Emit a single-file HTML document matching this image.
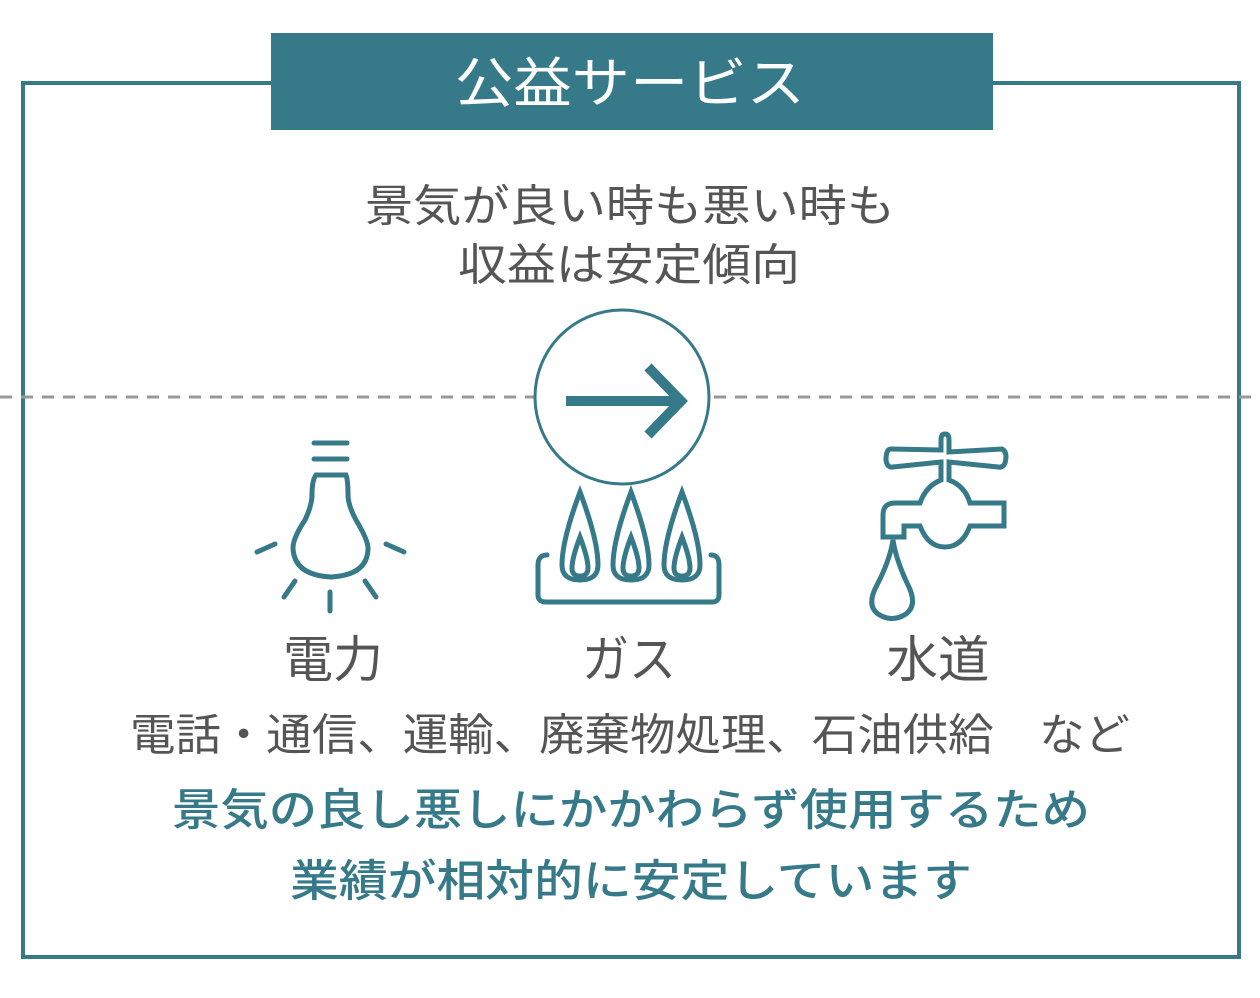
<!DOCTYPE html>
<html><head><meta charset="utf-8"><style>
html,body{margin:0;padding:0;background:#fff;}
svg{display:block;}
text{font-family:"Liberation Sans","Noto Sans CJK JP",sans-serif;}
</style></head><body>
<svg width="1260" height="998" viewBox="0 0 1260 998" xmlns="http://www.w3.org/2000/svg">
<rect x="0" y="0" width="1260" height="998" fill="#fff"/>
<rect x="23" y="83" width="1216" height="874" fill="none" stroke="#367a8a" stroke-width="4"/>
<rect x="271" y="33" width="722" height="97" fill="#367a8a"/>
<text x="630" y="102" font-size="54" fill="#fff" text-anchor="middle" textLength="350" lengthAdjust="spacingAndGlyphs">公益サービス</text>
<text x="630" y="221" font-size="44" fill="#555" text-anchor="middle" textLength="530" lengthAdjust="spacingAndGlyphs">景気が良い時も悪い時も</text>
<text x="629" y="280" font-size="44" fill="#555" text-anchor="middle" textLength="342" lengthAdjust="spacingAndGlyphs">収益は安定傾向</text>
<line x1="0" y1="397" x2="1260" y2="397" stroke="#999" stroke-width="3" stroke-dasharray="12,9"/>
<circle cx="622" cy="397" r="87" fill="#fff" stroke="#367a8a" stroke-width="3"/>
<line x1="566" y1="401" x2="678" y2="401" stroke="#367a8a" stroke-width="10"/>
<polyline points="648,367 681,401 648,435" fill="none" stroke="#367a8a" stroke-width="10"/>
<g fill="none" stroke="#367a8a" stroke-width="5" stroke-linecap="round">
<line x1="314" y1="443" x2="347" y2="443"/>
<line x1="314" y1="459" x2="347" y2="459"/>
<path d="M316 475 L346 475 Q348 480 348 495 Q348 505 356 520 Q368 540 368 548 Q368 575 331 577 Q294 575 293 548 Q293 538 305 520 Q312 505 312 495 Q312 480 316 475 Z"/>
<line x1="257" y1="552" x2="275" y2="544"/>
<line x1="386" y1="544" x2="404" y2="552"/>
<line x1="295" y1="581" x2="284" y2="597"/>
<line x1="365" y1="581" x2="376" y2="597"/>
<line x1="330" y1="592" x2="330" y2="611"/>
<path d="M547 555 Q538 555 538 565 L538 595 Q538 602 546 602 L712 602 Q719 602 719 595 L719 565 Q719 555 711 555"/>
<path d="M580 492 Q562 540 562 565 Q562 580 580 580 Q598 580 598 565 Q598 540 580 492 Z"/>
<path d="M580 537 Q572 558 572 568 Q572 576 580 576 Q588 576 588 568 Q588 558 580 537 Z"/>
<path d="M631 492 Q613 540 613 565 Q613 580 631 580 Q649 580 649 565 Q649 540 631 492 Z"/>
<path d="M631 537 Q623 558 623 568 Q623 576 631 576 Q639 576 639 568 Q639 558 631 537 Z"/>
<path d="M682 492 Q664 540 664 565 Q664 580 682 580 Q700 580 700 565 Q700 540 682 492 Z"/>
<path d="M682 537 Q674 558 674 568 Q674 576 682 576 Q690 576 690 568 Q690 558 682 537 Z"/>
<path d="M941 450 L941 440 Q941 434 945 434 Q949 434 949 440 L949 452 L1002 449 Q1008 452 1005 463 Q1003 468 998 467 L949 462 L949 480 Q965 486 970 503 L1004 503 L1004 526 L970 526 Q962 547 945 547 Q928 547 920 526 L904 526 L904 537 L883 537 L883 515 Q883 503 895 503 L920 503 Q926 486 941 480 L941 462 L893 467 Q887 468 886 460 Q886 449 891 449 Z"/>
<path d="M893 540 Q890 560 877 585 Q866 605 878 614 Q892 623 906 614 Q918 605 908 585 Q896 560 893 540 Z"/>
</g>
<text x="333" y="677" font-size="50" fill="#555" text-anchor="middle" textLength="100" lengthAdjust="spacingAndGlyphs">電力</text>
<text x="629" y="677" font-size="50" fill="#555" text-anchor="middle" textLength="94" lengthAdjust="spacingAndGlyphs">ガス</text>
<text x="938" y="677" font-size="50" fill="#555" text-anchor="middle" textLength="103" lengthAdjust="spacingAndGlyphs">水道</text>
<text x="130" y="750" font-size="44" fill="#555" textLength="1000" lengthAdjust="spacingAndGlyphs">電話・通信、運輸、廃棄物処理、石油供給　など</text>
<text x="172" y="825" font-size="44" font-weight="500" fill="#367a8a" textLength="918" lengthAdjust="spacingAndGlyphs">景気の良し悪しにかかわらず使用するため</text>
<text x="290" y="896" font-size="44" font-weight="500" fill="#367a8a" textLength="682" lengthAdjust="spacingAndGlyphs">業績が相対的に安定しています</text>
</svg>
</body></html>
